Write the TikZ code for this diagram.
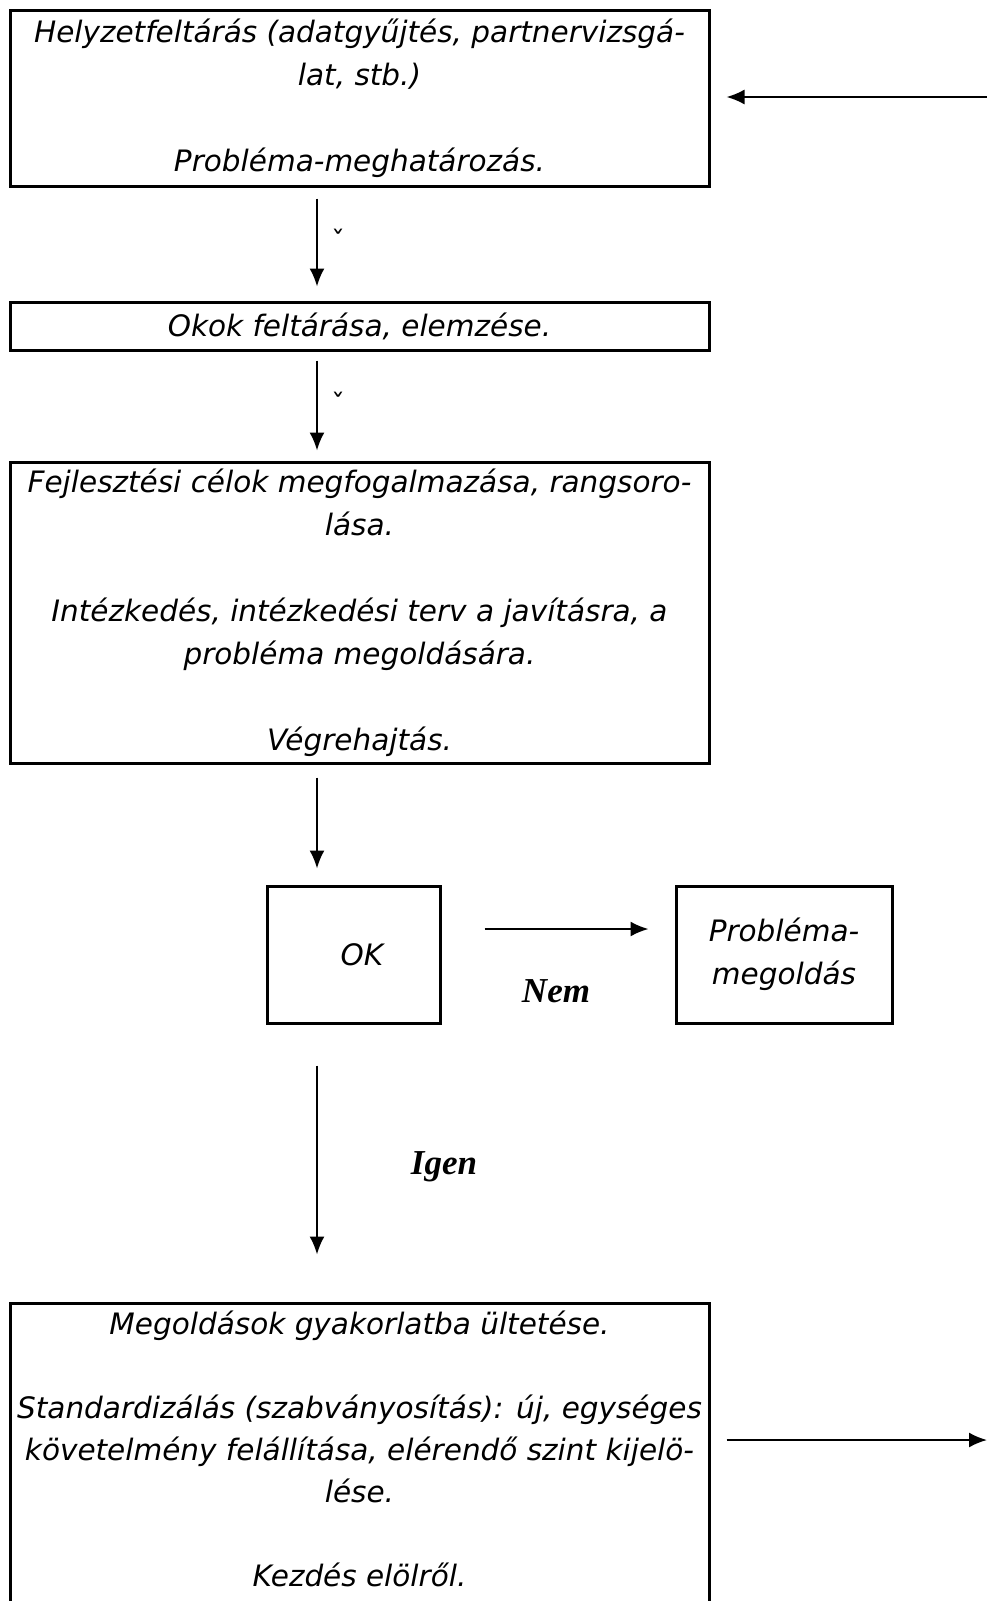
\documentclass[tikz,border=0pt]{standalone}
\usepackage{fontspec}
\setmainfont{DejaVu Sans}
\newfontfamily\answerfont{Liberation Serif}
\usetikzlibrary{arrows.meta, calc}
\tikzstyle{stepbox} = [draw, line width=3pt, align=center, inner sep=0pt, font=\fontsize{29.5}{43}\selectfont\itshape]
\tikzstyle{arrow} = [line width=2pt, -{Latex[length=18pt,width=15pt]}]
\tikzstyle{answer} = [font=\answerfont\fontsize{35}{40}\selectfont\bfseries\itshape]

\begin{document}
\begin{tikzpicture}[x=1pt, y=-1pt]
\useasboundingbox (0,0) rectangle (987,1601);

% Steps as boxes
\node[stepbox, minimum width=699pt, minimum height=176pt] (feltaras) at (359.5,98)
  {Helyzetfeltárás (adatgyűjtés, partnervizsgá-\\lat, stb.)\\[43pt]Probléma-meghatározás.};
\node[stepbox, minimum width=699pt, minimum height=48pt] (okok) at (359.5,326)
  {Okok feltárása, elemzése.};
\node[stepbox, minimum width=699pt, minimum height=301pt] (celok) at (359.5,612.5)
  {Fejlesztési célok megfogalmazása, rangsoro-\\lása.\\[43pt]Intézkedés, intézkedési terv a javításra, a\\probléma megoldására.\\[43pt]Végrehajtás.};
\node[stepbox, minimum width=173pt, minimum height=137pt] (ok) at (353.5,954.5) {\hspace*{17pt}OK};
\node[stepbox, minimum width=216pt, minimum height=137pt] (megoldas) at (784,954.5)
  {Probléma-\\megoldás};
\node[stepbox, minimum width=699pt, minimum height=308pt, font=\fontsize{29.5}{42}\selectfont\itshape] (standard) at (359.5,1457)
  {Megoldások gyakorlatba ültetése.\\[42pt]Standardizálás (szabványosítás): új, egységes\\követelmény felállítása, elérendő szint kijelö-\\lése.\\[42pt]Kezdés elölről.\\[-25pt]\mbox{}};

% Loose ends at the page edge
\coordinate (vissza) at (987,97);
\coordinate (tovabb) at (987,1440);

% Small marks and answers
\node[font=\fontsize{28}{30}\selectfont] (jel1) at (338,240) {ˇ};
\node[font=\fontsize{28}{30}\selectfont] (jel2) at (338,403) {ˇ};
\node[answer] (nem) at (556,991) {Nem};
\node[answer] (igen) at (444,1167) {Igen};

% Arrows
\draw[arrow, shorten <=11pt, shorten >=14pt] ([xshift=-42.5pt]feltaras.south) -- ([xshift=-42.5pt]okok.north);
\draw[arrow, shorten <=9pt, shorten >=10pt] ([xshift=-42.5pt]okok.south) -- ([xshift=-42.5pt]celok.north);
\draw[arrow, shorten <=13pt, shorten >=16pt] ([xshift=-42.5pt]celok.south) -- ([xshift=-42.5pt]celok.south |- ok.north);
\draw[arrow, shorten <=43pt, shorten >=26pt] ([yshift=25.5pt]ok.east) -- ([yshift=25.5pt]megoldas.west);
\draw[arrow, shorten <=41pt, shorten >=47pt] ([xshift=-36.5pt]ok.south) -- ([xshift=-36.5pt]ok.south |- standard.north);
\draw[arrow, shorten >=16pt] (vissza) -- (feltaras.east |- vissza);
\draw[arrow, shorten <=16pt] (standard.east |- tovabb) -- (tovabb);
\end{tikzpicture}
\end{document}
